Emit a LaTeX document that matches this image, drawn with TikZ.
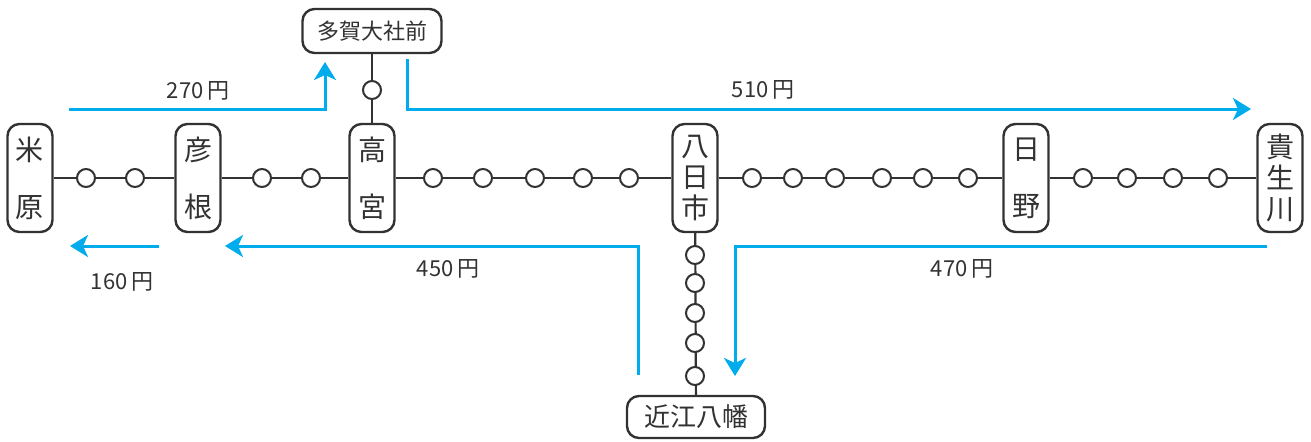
\documentclass[tikz,border=0pt]{standalone}
\usepackage{fontspec}
\setmainfont{Noto Sans CJK JP}
\usetikzlibrary{arrows.meta}
\definecolor{fare}{RGB}{0,172,236}
\definecolor{ink}{RGB}{50,50,50}
\begin{document}
\begin{tikzpicture}[x=0.5pt,y=-0.5pt,
  stn/.style={draw=ink, line width=1.2pt, rounded corners=6pt, fill=white,
    minimum width=22.5pt, minimum height=54pt, inner sep=0pt, align=center, text=ink},
  two/.style={stn, font=\fontsize{14}{28.5}\selectfont},
  three/.style={stn, font=\fontsize{14}{15.7}\selectfont},
  hstn/.style={draw=ink, line width=1.2pt, rounded corners=6pt, fill=white,
    minimum height=22pt, inner sep=0pt, text=ink},
  stop/.style={circle, draw=ink, line width=1pt, fill=white, minimum size=9pt, inner sep=0pt},
  track/.style={draw=ink, line width=1.1pt},
  fareline/.style={draw=fare, line width=1.5pt, -{Stealth[length=9pt,width=11pt,inset=2.5pt]}},
  price/.style={font=\fontsize{11}{13}\selectfont, text=ink}
]
\useasboundingbox (0,0) rectangle (1311,441);
% stations
\node[two] (maibara) at (30,178) {米\\原};
\node[two] (hikone) at (198,178) {彦\\根};
\node[two] (takamiya) at (372,178) {高\\宮};
\node[three] (yokaichi) at (695,178) {八\\日\\市};
\node[two] (hino) at (1026,178) {日\\野};
\node[three] (kibukawa) at (1280,178) {貴\\生\\川};
\node[hstn, minimum width=69.5pt, font=\fontsize{11}{13}\selectfont] (taga) at (372,31) {多賀大社前};
\node[hstn, minimum width=69pt, minimum height=21pt, font=\fontsize{13}{15}\selectfont] (omi) at (696,417) {近江八幡};
% tracks
\draw[track] (maibara) -- (hikone);
\draw[track] (hikone) -- (takamiya);
\draw[track] (takamiya) -- (yokaichi);
\draw[track] (yokaichi) -- (hino);
\draw[track] (hino) -- (kibukawa);
\draw[track] (taga) -- (takamiya);
\draw[track] (yokaichi) -- (omi);
% intermediate stops
\foreach \x [count=\i] in {86,135,262,311,433,483,535,583,629,752,793,835,882,923,968,1083,1127,1173,1218}
  \node[stop] (h\i) at (\x,178) {};
\node[stop] (t1) at (372,90) {};
\foreach \y [count=\i] in {255,283,313,343,376}
  \node[stop] (v\i) at (695,\y) {};
% fares
\coordinate (a1) at (69,109);   \coordinate (a2) at (325,62);
\coordinate (b1) at (407,59);   \coordinate (b2) at (1251,109);
\coordinate (c1) at (159,246);  \coordinate (c2) at (70,246);
\coordinate (d1) at (638,375);  \coordinate (d2) at (225,246);
\coordinate (e1) at (1267,246); \coordinate (e2) at (735,376);
\draw[fareline] (a1) -| (a2);
\draw[fareline] (b1) |- (b2);
\draw[fareline] (c1) -- (c2);
\draw[fareline] (d1) |- (d2);
\draw[fareline] (e1) -| (e2);
\node[price] (p270) at (198,91) {270\,円};
\node[price] (p510) at (763,90) {510\,円};
\node[price] (p160) at (122,282) {160\,円};
\node[price] (p450) at (448,269) {450\,円};
\node[price] (p470) at (962,269) {470\,円};
\end{tikzpicture}
\end{document}
